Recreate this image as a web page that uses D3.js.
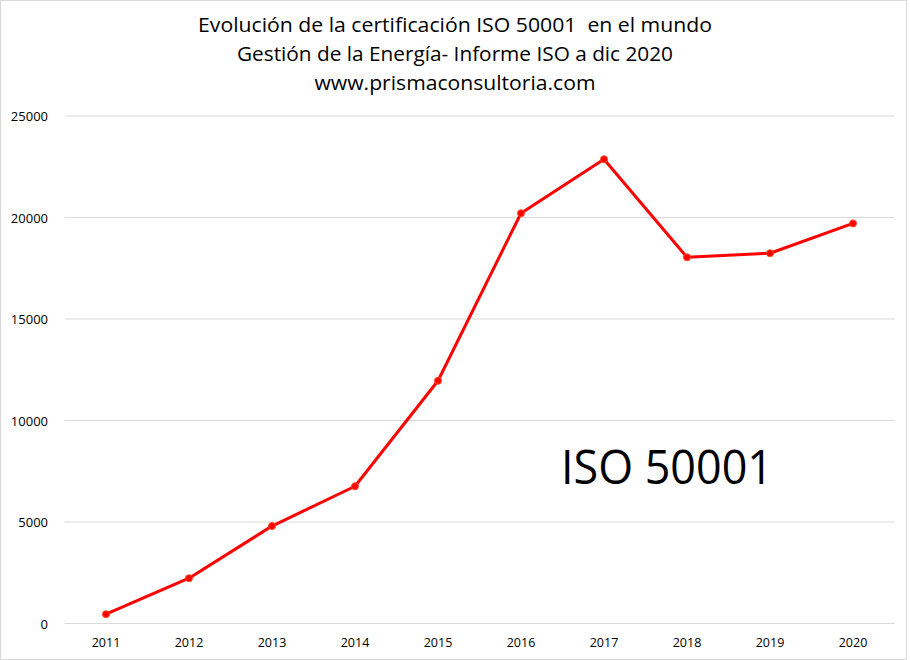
<!DOCTYPE html>
<html><head><meta charset="utf-8">
<script src="https://cdn.jsdelivr.net/npm/d3@7"></script>
<style>body{margin:0;background:#fff}svg{display:block}</style>
</head><body>
<svg id="c" width="910" height="660"></svg>
<script>
const years = ["2011","2012","2013","2014","2015","2016","2017","2018","2019","2020"];
const certificates = [460, 2230, 4800, 6760, 11960, 20210, 22870, 18040, 18240, 19710];
const yTicks = [0, 5000, 10000, 15000, 20000, 25000];
const titleLines = ["Evolución de la certificación ISO 50001  en el mundo","Gestión de la Energía- Informe ISO a dic 2020","www.prismaconsultoria.com"];
const seriesLabel = "ISO 50001";

const svg = d3.select("#c");
const font = "'Open Sans', 'Noto Sans', sans-serif";
svg.append("rect").attr("x",0.5).attr("y",0.5).attr("width",906).attr("height",659)
  .attr("fill","#fff").attr("stroke","#d9d9d9");

const L=64.5, R=894.5, T=116, B=623.5;
const x = d3.scaleBand().domain(years).range([L,R]);
const y = d3.scaleLinear().domain([0,25000]).range([B,T]);

const g = svg.append("g");
g.selectAll("line.grid").data(yTicks).join("line")
  .attr("x1",L).attr("x2",R).attr("y1",d=>y(d)).attr("y2",d=>y(d))
  .attr("stroke","#d9d9d9").attr("stroke-width",1);

const yAxis = d3.axisLeft(y).tickValues(yTicks).tickSize(0).tickPadding(0).tickFormat(d3.format("d"));
const ya = svg.append("g").attr("transform","translate(48,0)").call(yAxis);
ya.select(".domain").remove();
ya.selectAll("text").attr("font-family",font).attr("font-size",13).attr("fill","#000").attr("dy","0.35em");

const xAxis = d3.axisBottom(x).tickSize(0).tickPadding(0);
const xa = svg.append("g").attr("transform",`translate(0,${B+19})`).call(xAxis);
xa.select(".domain").remove();
xa.selectAll("text").attr("font-family",font).attr("font-size",12.5).attr("fill","#000").attr("dy","0.35em");

const cx = d => x(d) + x.bandwidth()/2;
const pts = years.map((yr,i)=>[cx(yr), y(certificates[i])]);
svg.append("path").attr("d", d3.line()(pts)).attr("fill","none")
  .attr("stroke","#ff0000").attr("stroke-width",3).attr("stroke-linejoin","round");
svg.selectAll("circle.pt").data(pts).join("circle")
  .attr("cx",d=>d[0]).attr("cy",d=>d[1]).attr("r",3.5)
  .attr("fill","#ff0000").attr("stroke","#ff4a1a").attr("stroke-width",1);

const tb = [32, 61, 90];
const tw = [514, 436, 281];
svg.selectAll("text.title").data(titleLines).join("text")
  .attr("x",455).attr("y",(d,i)=>tb[i]).attr("text-anchor","middle")
  .style("white-space","pre")
  .attr("textLength",(d,i)=>tw[i]).attr("lengthAdjust","spacingAndGlyphs")
  .attr("font-family",font).attr("font-size",19.5).attr("fill","#000").text(d=>d);

svg.append("text").attr("x",561).attr("y",484).attr("font-family",font)
  .attr("font-size",47).attr("fill","#000").attr("textLength",212).attr("lengthAdjust","spacingAndGlyphs").text(seriesLabel);
</script>
</body></html>
